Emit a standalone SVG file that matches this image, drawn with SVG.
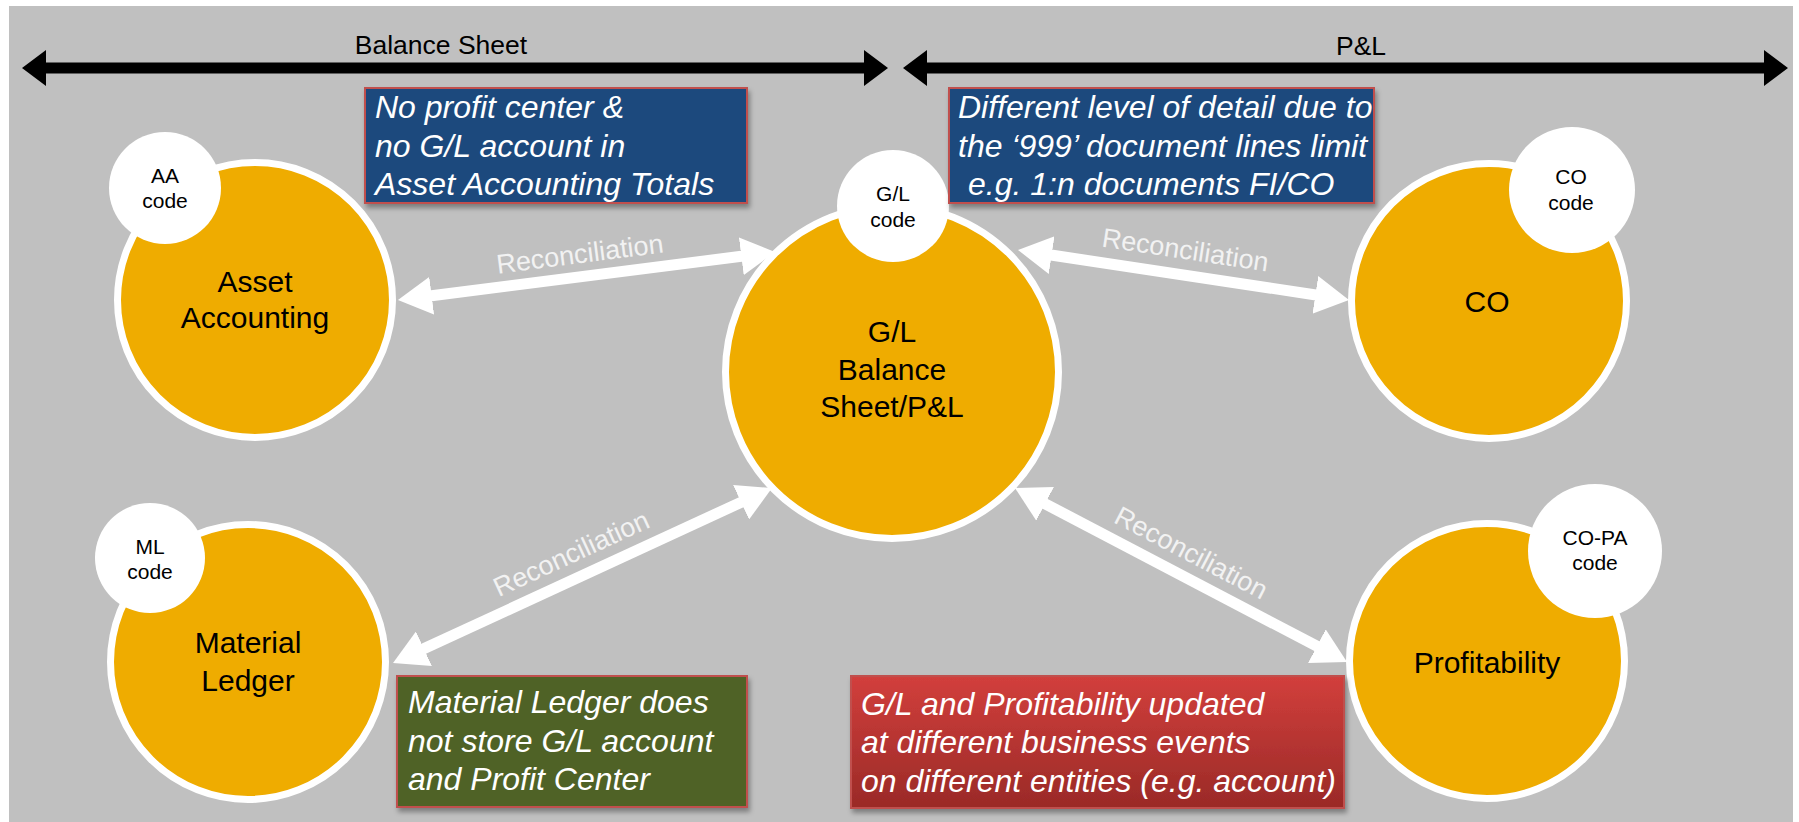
<svg xmlns="http://www.w3.org/2000/svg" width="1799" height="822" viewBox="0 0 1799 822">
<defs>
<style>
.bg{fill:#c0c0c0}
.main{fill:#efac00;stroke:#ffffff;stroke-width:7}
.codec{fill:#ffffff}
.lbl{font-family:"Liberation Sans",Arial,sans-serif;fill:#000000;text-anchor:middle}
.big{font-size:30px}
.small{font-size:21px}
.hdr{font-family:"Liberation Sans",Arial,sans-serif;font-size:26.5px;fill:#000000;text-anchor:middle}
.box{stroke:#c0504d;stroke-width:2}
.btxt{font-family:"Liberation Sans",Arial,sans-serif;font-size:32px;font-style:italic;fill:#ffffff}
.rec{font-family:"Liberation Sans",Arial,sans-serif;font-size:27px;fill:#f2f2f2;text-anchor:middle}
.conn{stroke:#ffffff;stroke-width:11;fill:none;marker-start:url(#ah);marker-end:url(#ah)}
</style>
<marker id="ah" markerUnits="userSpaceOnUse" viewBox="0 0 34 38" markerWidth="34" markerHeight="38" refX="14" refY="19" orient="auto-start-reverse">
<path d="M0,0 L34,19 L0,38 Z" fill="#ffffff"/>
</marker>
<linearGradient id="redg" x1="0" y1="0" x2="0" y2="1">
<stop offset="0" stop-color="#d23f3c"/>
<stop offset="1" stop-color="#9a2a27"/>
</linearGradient>
<filter id="sh" x="-10%" y="-10%" width="125%" height="135%">
<feDropShadow dx="2" dy="4" stdDeviation="2.5" flood-color="#000000" flood-opacity="0.35"/>
</filter>
</defs>

<rect class="bg" x="9" y="6" width="1784" height="816"/>

<g id="headers">
<path d="M22,68 L46,50 L46,62.5 L864,62.5 L864,50 L888,68 L864,86 L864,73.5 L46,73.5 L46,86 Z" fill="#000000"/>
<text class="hdr" x="441" y="54">Balance Sheet</text>
<path d="M903,68 L927,50 L927,62.5 L1764,62.5 L1764,50 L1788,68 L1764,86 L1764,73.5 L927,73.5 L927,86 Z" fill="#000000"/>
<text class="hdr" x="1361" y="55">P&amp;L</text>
</g>

<g id="connectors">
<line class="conn" x1="417.8" y1="297.5" x2="755.2" y2="254.5"/>
<line class="conn" x1="1037.8" y1="253" x2="1329.2" y2="297"/>
<line class="conn" x1="411.2" y1="654.6" x2="753.8" y2="496.4"/>
<line class="conn" x1="1032.7" y1="497.3" x2="1329.3" y2="652.7"/>
<text class="rec" transform="translate(581,263) rotate(-7.3)">Reconciliation</text>
<text class="rec" transform="translate(1184,259) rotate(8.6)">Reconciliation</text>
<text class="rec" transform="translate(575,562) rotate(-24.8)">Reconciliation</text>
<text class="rec" transform="translate(1187,561) rotate(27.6)">Reconciliation</text>
</g>

<g id="node-asset">
<circle class="main" cx="255" cy="300" r="137.5"/>
<circle class="codec" cx="165" cy="188" r="56"/>
<text class="lbl small" x="165" y="183">AA</text>
<text class="lbl small" x="165" y="208">code</text>
<text class="lbl big" x="255" y="292">Asset</text>
<text class="lbl big" x="255" y="328">Accounting</text>
</g>

<g id="node-gl">
<circle class="main" cx="892" cy="372" r="166.5"/>
<circle class="codec" cx="893" cy="206" r="56"/>
<text class="lbl small" x="893" y="201">G/L</text>
<text class="lbl small" x="893" y="227">code</text>
<text class="lbl big" x="892" y="342">G/L</text>
<text class="lbl big" x="892" y="380">Balance</text>
<text class="lbl big" x="892" y="417">Sheet/P&amp;L</text>
</g>

<g id="node-co">
<circle class="main" cx="1489" cy="301" r="137.5"/>
<circle class="codec" cx="1572" cy="190" r="63"/>
<text class="lbl small" x="1571" y="184">CO</text>
<text class="lbl small" x="1571" y="210">code</text>
<text class="lbl big" x="1487" y="312">CO</text>
</g>

<g id="node-profitability">
<circle class="main" cx="1487" cy="661" r="137.5"/>
<circle class="codec" cx="1595" cy="551" r="67"/>
<text class="lbl small" x="1595" y="545">CO-PA</text>
<text class="lbl small" x="1595" y="570">code</text>
<text class="lbl big" x="1487" y="673">Profitability</text>
</g>

<g id="node-ml">
<circle class="main" cx="248" cy="662" r="137.5"/>
<circle class="codec" cx="150" cy="558" r="55"/>
<text class="lbl small" x="150" y="554">ML</text>
<text class="lbl small" x="150" y="579">code</text>
<text class="lbl big" x="248" y="653">Material</text>
<text class="lbl big" x="248" y="691">Ledger</text>
</g>

<g id="note-aa">
<rect class="box" x="365" y="88" width="382" height="115" fill="#1f497d" filter="url(#sh)"/>
<text class="btxt" x="375" y="118">No profit center &amp;</text>
<text class="btxt" x="375" y="157">no G/L account in</text>
<text class="btxt" x="375" y="195">Asset Accounting Totals</text>
</g>

<g id="note-co">
<rect class="box" x="949" y="88" width="425" height="115" fill="#1f497d" filter="url(#sh)"/>
<text class="btxt" x="958" y="118">Different level of detail due to</text>
<text class="btxt" x="958" y="157">the ‘999’ document lines limit</text>
<text class="btxt" x="968" y="195">e.g. 1:n documents FI/CO</text>
</g>

<g id="note-ml">
<rect class="box" x="397" y="676" width="350" height="131" fill="#4f6228" filter="url(#sh)"/>
<text class="btxt" x="408" y="713">Material Ledger does</text>
<text class="btxt" x="408" y="752">not store G/L account</text>
<text class="btxt" x="408" y="790">and Profit Center</text>
</g>

<g id="note-pa">
<rect class="box" x="851" y="676" width="493" height="132" fill="url(#redg)" filter="url(#sh)"/>
<text class="btxt" x="861" y="715">G/L and Profitability updated</text>
<text class="btxt" x="861" y="753">at different business events</text>
<text class="btxt" x="861" y="792">on different entities (e.g. account)</text>
</g>
</svg>
